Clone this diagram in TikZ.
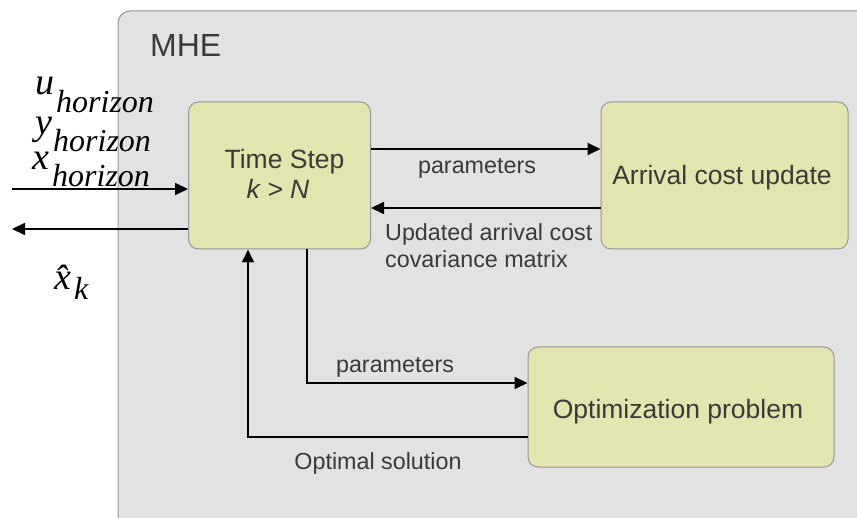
\documentclass[tikz,border=0pt]{standalone}
\usepackage{fontspec}
\setmainfont{Liberation Sans}
\newfontfamily\mathserif{Liberation Serif}
\usetikzlibrary{arrows.meta}
\definecolor{panelfill}{RGB}{226,226,226}
\definecolor{blockfill}{RGB}{226,230,174}
\definecolor{edgegray}{RGB}{150,150,150}
\definecolor{inkgray}{RGB}{58,58,58}
\tikzset{
  block/.style={draw=edgegray, line width=1pt, fill=blockfill, rounded corners=10pt, inner sep=0pt},
  conn/.style={line width=1.8pt, black},
  arr/.style={conn, -{Triangle[length=13pt,width=12pt]}},
  boxtext/.style={inner sep=0pt, anchor=base, text=inkgray, font=\fontsize{26.5}{30}\selectfont},
  lbl/.style={inner sep=0pt, text=inkgray, font=\fontsize{23.3}{27}\selectfont},
  sym/.style={inner sep=0pt, anchor=base west, font=\mathserif\itshape\fontsize{38}{38}\selectfont},
  subsym/.style={inner sep=0pt, anchor=base west, font=\mathserif\itshape\fontsize{32}{32}\selectfont}
}
\begin{document}
\begin{tikzpicture}[x=1pt,y=-1pt]
\useasboundingbox (0,0) rectangle (857,518);
\clip (0,0) rectangle (857,518);

% MHE panel
\draw[draw=edgegray, line width=1pt, fill=panelfill, rounded corners=12pt] (118,11) rectangle (890,560);
\node[inner sep=0pt, anchor=base west, text=inkgray, font=\fontsize{32}{32}\selectfont] (mhe) at (150,57) {MHE};

% blocks
\node[block, minimum width=182pt, minimum height=147pt] (ts) at (279.5,175.5) {};
\node[block, minimum width=247pt, minimum height=147pt] (ac) at (724.5,175.5) {};
\node[block, minimum width=306pt, minimum height=120pt] (op) at (681,407) {};

\node[boxtext] (tsa) at (284.5,169) {Time Step};
\node[boxtext] (tsb) at (278,199) {\itshape k > N};
\node[boxtext] (act) at (722,185) {Arrival cost update};
\node[boxtext] (opt) at (678,419) {Optimization problem};

% inputs and outputs
\node[sym] (u) at (35,95) {u};
\node[subsym] (uh) at (56,113) {horizon};
\node[sym] (y) at (35,135) {y};
\node[subsym] (yh) at (53,152) {horizon};
\node[sym] (x) at (32,170) {x};
\node[subsym] (xh) at (52,187) {horizon};
\node[sym] (xhat) at (54,290) {\^x};
\node[subsym] (k) at (74,300) {k};

\coordinate (inL) at (12,189);
\coordinate (outL) at (12,229);
\draw[arr] (inL) -- (ts.west |- inL);
\draw[arr] (ts.west |- outL) -- (outL);

% arrival cost exchange
\coordinate (p1) at (0,149);
\coordinate (p2) at (0,208);
\draw[arr] (ts.east |- p1) -- (ac.west |- p1);
\draw[arr] (ac.west |- p2) -- (ts.east |- p2);
\node[lbl, anchor=base] (lp1) at (477,174) {parameters};
\node[lbl, anchor=base west] (lu1) at (385,241) {Updated arrival cost};
\node[lbl, anchor=base west] (lu2) at (385,268) {covariance matrix};

% optimization exchange
\coordinate (c1) at (307,383);
\coordinate (c2) at (248,437);
\draw[arr] (ts.south -| c1) -- (c1) -- (op.west |- c1);
\draw[arr] (op.west |- c2) -- (c2) -- (ts.south -| c2);
\node[lbl, anchor=base] (lp2) at (395,373) {parameters};
\node[lbl, anchor=base] (los) at (378,469) {Optimal solution};
\end{tikzpicture}
\end{document}
